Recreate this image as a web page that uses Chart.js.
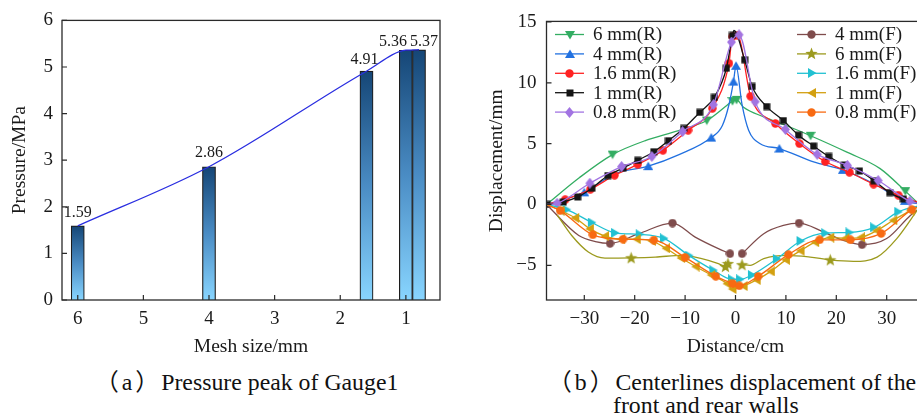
<!DOCTYPE html>
<html><head><meta charset="utf-8">
<script src="https://cdn.jsdelivr.net/npm/chart.js@4.4.1/dist/chart.umd.min.js"></script>
<style>
html,body{margin:0;padding:0;background:#fff;}
body{width:917px;height:419px;overflow:hidden;position:relative;}
.box{position:absolute;top:0;}
.cap{position:absolute;font-family:"Liberation Serif","Noto Sans CJK SC",serif;font-size:23.8px;color:#111;white-space:nowrap;line-height:24px;}
.cap .l{margin-left:3px;margin-right:3px;}
.cap .r{margin-right:2px;}
</style></head>
<body>
<div class="box" style="left:0;width:460px;height:360px"><canvas id="c1" width="460" height="360"></canvas></div>
<div class="box" style="left:480px;width:460px;height:360px"><canvas id="c2" width="460" height="360"></canvas></div>
<div class="cap" style="left:95px;top:370px">（<span class="l">a</span>）<span class="r"></span>Pressure peak of Gauge1</div>
<div class="cap" style="left:548px;top:370px">（<span class="l">b</span>）<span class="r"></span>Centerlines displacement of the</div>
<div class="cap" style="left:613px;top:393px">front and rear walls</div>
<script>
// ---------- data: panel (a) ----------
const meshSizes = [6, 4, 1.6, 1, 0.8];
const peakPressure = [1.59, 2.86, 4.91, 5.36, 5.37];
const meshTicks = [6, 5, 4, 3, 2, 1];
const pressureTicks = [0, 1, 2, 3, 4, 5, 6];

// ---------- data: panel (b) ----------
const distTicks = [-30, -20, -10, 0, 10, 20, 30];
const dispTicks = [-5, 0, 5, 10, 15];
const seriesNames = ['6 mm(R)', '4 mm(R)', '1.6 mm(R)', '1 mm(R)', '0.8 mm(R)',
                     '4 mm(F)', '6 mm(F)', '1.6 mm(F)', '1 mm(F)', '0.8 mm(F)'];
// marked points of each curve
const r6Marks = [[-24.4,4.1],[-5.7,6.9],[-0.6,8.5],[0.2,8.6],[14.9,5.65],[33.7,1.1]];
const r4Marks = [[-30,1.0],[-17.3,3.15],[-4.8,5.5],[-0.4,10.1],[0.1,11.4],[8.7,4.6],[21.3,2.85],[33.6,0.3]];
const r16Marks = [[-33.8,0.4],[-28.8,1.25],[-24,2.4],[-19.4,3.3],[-14.4,4.45],[-9.4,6.1],[-4.6,7.9],[-1.3,11.6],[-0.6,13.8],[0.4,13.9],[3.0,8.9],[7.9,6.66],[12.7,5.0],[17.8,3.53],[22.6,2.65],[27.4,1.67],[32.3,0.77]];
const r1Marks = [[-37.4,0],[-34.2,0.2],[-31.3,0.62],[-28.5,1.34],[-25.3,2.38],[-22.3,3.0],[-19.4,3.63],[-16.2,4.34],[-13.3,5.25],[-10.3,6.25],[-7.1,7.57],[-4.2,8.8],[-1.8,11.2],[-0.6,13.9],[1.8,11.9],[3.3,9.7],[6.2,8.05],[9.5,6.9],[12.5,5.7],[15.5,4.8],[18.5,3.95],[21.6,3.25],[24.6,2.75],[27.5,1.95],[30.6,0.98],[33.3,0.45]];
const r08Marks = [[-35.4,0.1],[-28.9,1.75],[-22.6,3.12],[-16.6,3.95],[-10.5,6.0],[-4.4,8.2],[-0.8,13.35],[0.7,13.95],[3.9,8.45],[9.9,6.17],[16.2,4.12],[22.2,3.22],[28.3,1.97],[34.6,0.27]];
const f4Marks = [[-24.9,-3.2],[-12.5,-1.53],[-1.1,-4.04],[1.3,-4.04],[12.6,-1.53],[25.1,-3.3]];
const f6Marks = [[-20.7,-4.38],[-2.0,-5.1],[-1.5,-4.86],[1.3,-4.95],[18.8,-4.55]];
const f16Marks = [[-33.5,-0.42],[-28.5,-1.48],[-23.9,-2.33],[-19,-2.45],[-14.2,-2.78],[-9.2,-4.2],[-4.4,-5.4],[-0.7,-6.15],[0.9,-6.15],[3.25,-5.8],[8.2,-4.47],[12.9,-3.0],[17.8,-2.35],[22.6,-2.3],[27.5,-1.88],[32.3,-0.6]];
const f1Marks = [[-34.7,-0.5],[-31.8,-1.1],[-28.9,-2.0],[-25.9,-2.6],[-22.7,-2.85],[-19.6,-2.85],[-16.6,-3.0],[-13.8,-3.6],[-10.8,-4.4],[-7.9,-5.1],[-4.8,-5.8],[-1.7,-6.5],[-0.6,-6.95],[1.6,-6.7],[4.2,-6.2],[7.0,-5.5],[10.0,-4.55],[12.9,-3.8],[15.8,-3.1],[18.8,-2.72],[21.8,-2.78],[24.9,-2.7],[28,-2.15],[31.3,-1.3],[34.7,-0.5]];
const f08Marks = [[-34.8,-0.5],[-28.3,-2.49],[-22.3,-2.85],[-16.2,-2.92],[-10,-4.35],[-3.9,-5.9],[-0.55,-6.5],[0.75,-6.68],[4.5,-5.9],[10.5,-4.12],[16.7,-2.9],[22.8,-2.9],[28.9,-2.38],[35,-0.42]];
// unmarked points of each curve (null = break in the line)
const r6Curve = [[-37.5,0],[-31,2.2],[-17.9,5.25],[-11.3,6.07],[-2,8.05],[1.6,8.0],[5.6,7.2],[10.9,6.35],[22.1,4.3],[28.7,2.95],[37.5,-0.4]];
const r4Curve = [[-37.5,0],[-24,2.5],[-11.2,4.1],[-2.6,6.5],[-1.3,8.2],[1.3,8.2],[2.6,6.1],[4.9,5.0],[15.5,3.5],[27.5,1.7],[37.5,0]];
const r16Curve = [[-37.5,0],[37.5,0]];
const r1Curve = [[-0.3,14.3],[37.5,0]];
const r08Curve = [[-37.5,0],[37.5,0]];
const f4Curve = [[-37.5,0],[-31.1,-2.55],[-27.8,-3.05],[-19.2,-2.4],[-8,-2.68],[-3.4,-3.63],[0,null],[5.6,-2.4],[9.5,-1.72],[17.5,-2.27],[21.4,-2.95],[30,-2.8],[34.7,-0.9],[37.5,0]];
const f6Curve = [[-35.4,-0.85],[-32.5,-2.55],[-29.2,-3.9],[-25.9,-4.4],[-15.9,-4.32],[-10.6,-4.18],[-6.7,-4.45],[-3.4,-4.86],[0,null],[2.9,-5.0],[5.6,-4.45],[10.2,-4.18],[14.8,-4.32],[23.4,-4.67],[28.1,-4.32],[32,-2.8],[36,-0.5],[37.5,0.4]];
const f16Curve = [[-37.5,0],[37.5,0]];
const f1Curve = [[-37.5,0],[37.5,0]];
const f08Curve = [[-37.5,0],[37.5,0]];

const allMarks = [r6Marks, r4Marks, r16Marks, r1Marks, r08Marks, f4Marks, f6Marks, f16Marks, f1Marks, f08Marks];
const allCurves = [r6Curve, r4Curve, r16Curve, r1Curve, r08Curve, f4Curve, f6Curve, f16Curve, f1Curve, f08Curve];

// ---------- styles ----------
const seriesColors = ['#33ad62', '#2271e0', '#ff2222', '#151515', '#a274e2',
                      '#7f4c4c', '#9c9a1e', '#22c1d2', '#d3a010', '#f86a12'];
const seriesShapes = ['down', 'up', 'circle', 'square', 'diamond',
                      'circle', 'star', 'right', 'left', 'circle'];
const FONT = '"Liberation Serif", "Times New Roman", serif';
const INK = '#1a1a1a';

function makeMarker(shape, color) {
  const sizes = {circle: 9, square: 8, diamond: 11, up: 10, down: 10, left: 10, right: 10, star: 13};
  const s = sizes[shape];
  const c = document.createElement('canvas'); c.width = s; c.height = s;
  const g = c.getContext('2d'); g.fillStyle = color; const h = s / 2;
  g.beginPath();
  if (shape === 'circle') g.arc(h, h, h - 0.3, 0, Math.PI * 2);
  else if (shape === 'square') g.rect(0.5, 0.5, s - 1, s - 1);
  else if (shape === 'diamond') { g.moveTo(h, 0); g.lineTo(s - 1, h); g.lineTo(h, s); g.lineTo(1, h); }
  else if (shape === 'up') { g.moveTo(h, 0.5); g.lineTo(s, s - 1); g.lineTo(0, s - 1); }
  else if (shape === 'down') { g.moveTo(0, 1); g.lineTo(s, 1); g.lineTo(h, s - 0.5); }
  else if (shape === 'right') { g.moveTo(s - 0.5, h); g.lineTo(1, 0); g.lineTo(1, s); }
  else if (shape === 'left') { g.moveTo(0.5, h); g.lineTo(s - 1, 0); g.lineTo(s - 1, s); }
  else if (shape === 'star') {
    for (let k = 0; k < 10; k++) {
      const r = k % 2 === 0 ? h : h * 0.42;
      const a = -Math.PI / 2 + k * Math.PI / 5;
      const px = h + r * Math.cos(a), py = h + 0.5 + r * Math.sin(a);
      if (k === 0) g.moveTo(px, py); else g.lineTo(px, py);
    }
  }
  g.closePath(); g.fill();
  return c;
}

function minusLabel(v) { return v < 0 ? '\u2212' + Math.abs(v) : String(v); }

// frame + inward tick marks
const framePlugin = {
  id: 'frame',
  afterDatasetsDraw(chart) {
    const {ctx, chartArea: a, scales} = chart;
    ctx.save();
    ctx.strokeStyle = '#2a2a2a'; ctx.lineWidth = 1.3;
    ctx.strokeRect(a.left, a.top, a.right - a.left, a.bottom - a.top);
    ctx.lineWidth = 1.2;
    ctx.beginPath();
    scales.x.ticks.forEach(t => {
      const x = scales.x.getPixelForValue(t.value);
      ctx.moveTo(x, a.bottom); ctx.lineTo(x, a.bottom - 5);
    });
    scales.y.ticks.forEach(t => {
      const y = scales.y.getPixelForValue(t.value);
      ctx.moveTo(a.left, y); ctx.lineTo(a.left + 5, y);
    });
    ctx.stroke();
    ctx.restore();
  }
};

function axisCommon(ticksArr, fmt, pad) {
  return {
    grid: {display: false, drawTicks: false},
    border: {display: false},
    afterBuildTicks: s => { s.ticks = ticksArr.map(v => ({value: v})); },
    ticks: {font: {family: FONT, size: 19}, color: INK, padding: pad, callback: fmt, autoSkip: false, maxRotation: 0}
  };
}

// ---------- panel (a) ----------
const barLabelShift = [[0, -9], [0, -10], [-2, -7], [-13, -4], [5, -4]];
const barLabelPlugin = {
  id: 'barLabels',
  afterDatasetsDraw(chart) {
    const {ctx, scales} = chart;
    ctx.save();
    ctx.font = '16px ' + FONT; ctx.fillStyle = INK; ctx.textAlign = 'center'; ctx.textBaseline = 'alphabetic';
    meshSizes.forEach((m, i) => {
      const x = scales.x.getPixelForValue(m), y = scales.y.getPixelForValue(peakPressure[i]);
      ctx.fillText(peakPressure[i].toFixed(2), x + barLabelShift[i][0], y + barLabelShift[i][1]);
    });
    ctx.restore();
  }
};
const barPoints = meshSizes.map((m, i) => ({x: m, y: peakPressure[i]}));
new Chart(document.getElementById('c1'), {
  type: 'bar',
  data: {datasets: [
    {type: 'line', data: barPoints, borderColor: '#2a2ee0', borderWidth: 1.3, pointRadius: 0,
     cubicInterpolationMode: 'monotone', order: 0},
    {type: 'bar', data: barPoints, order: 1, barPercentage: 1, categoryPercentage: 1,
     borderColor: '#1c1c1c', borderWidth: 1.2,
     backgroundColor: c => {
       const ch = c.chart;
       if (!ch.chartArea || !c.raw) return '#4a8fc6';
       const yT = ch.scales.y.getPixelForValue(c.raw.y), yB = ch.scales.y.getPixelForValue(0);
       const g = ch.ctx.createLinearGradient(0, yT, 0, yB);
       g.addColorStop(0, '#154676'); g.addColorStop(0.5, '#4a8cc4'); g.addColorStop(1, '#88d5ff');
       return g;
     }}
  ]},
  options: {
    responsive: false, animation: false, devicePixelRatio: 1,
    layout: {padding: {top: 20, right: 20, left: 0, bottom: 0}},
    plugins: {legend: {display: false}, tooltip: {enabled: false}},
    scales: {
      x: Object.assign(axisCommon(meshTicks, v => String(v), 8), {
        type: 'linear', reverse: true, min: 0.48, max: 6.24, offset: false,
        title: {display: true, text: 'Mesh size/mm', font: {family: FONT, size: 19.5}, color: INK, padding: {top: 0, bottom: 1}},
        afterFit: s => { s.height = 60; }
      }),
      y: Object.assign(axisCommon(pressureTicks, v => String(v), 9), {
        min: 0, max: 6,
        title: {display: true, text: 'Pressure/MPa', font: {family: FONT, size: 19.5}, color: INK, padding: {top: 8, bottom: 0}},
        afterFit: s => { s.width = 62; }
      })
    }
  },
  plugins: [framePlugin, barLabelPlugin]
});

// ---------- panel (b) ----------
const markerImgs = seriesColors.map((c, i) => makeMarker(seriesShapes[i], c));
const datasets = seriesNames.map((name, i) => {
  const pts = allMarks[i].map(p => ({x: p[0], y: p[1], m: true}))
    .concat(allCurves[i].map(p => ({x: p[0], y: p[1], m: false})))
    .sort((a, b) => a.x - b.x);
  return {
    label: name, data: pts, borderColor: seriesColors[i], backgroundColor: seriesColors[i],
    borderWidth: 1.3, cubicInterpolationMode: 'monotone', spanGaps: false,
    pointStyle: markerImgs[i], pointRadius: c => (c.raw && c.raw.m ? 4 : 0), pointHoverRadius: 0,
    order: -i
  };
});
const legendPlugin = {
  id: 'legendBox',
  afterDraw(chart) {
    const ctx = chart.ctx;
    ctx.save();
    ctx.font = '19px ' + FONT; ctx.fillStyle = INK; ctx.textBaseline = 'middle'; ctx.textAlign = 'left';
    seriesNames.forEach((name, i) => {
      const col = i < 5 ? 0 : 1, row = i % 5;
      const x0 = col === 0 ? 75 : 317, y = 34.5 + row * 19.4;
      ctx.strokeStyle = seriesColors[i]; ctx.lineWidth = 1.3;
      ctx.beginPath(); ctx.moveTo(x0, y); ctx.lineTo(x0 + 29, y); ctx.stroke();
      const img = markerImgs[i];
      ctx.drawImage(img, Math.round(x0 + 14.5 - img.width / 2), Math.round(y - img.height / 2));
      ctx.fillText(name, x0 + 38, y + 1);
    });
    ctx.restore();
  }
};
new Chart(document.getElementById('c2'), {
  type: 'line',
  data: {datasets},
  options: {
    responsive: false, animation: false, devicePixelRatio: 1,
    layout: {padding: {top: 20, right: 15.5, left: 0, bottom: 0}},
    plugins: {legend: {display: false}, tooltip: {enabled: false}},
    scales: {
      x: Object.assign(axisCommon(distTicks, minusLabel, 8), {
        type: 'linear', min: -37.5, max: 37.5,
        title: {display: true, text: 'Distance/cm', font: {family: FONT, size: 19.5}, color: INK, padding: {top: 0, bottom: 1}},
        afterFit: s => { s.height = 60; }
      }),
      y: Object.assign(axisCommon(dispTicks, minusLabel, 10), {
        type: 'linear', min: -7.85, max: 15.05,
        title: {display: true, text: 'Displacement/mm', font: {family: FONT, size: 19.5}, color: INK, padding: {top: 5, bottom: 0}},
        afterFit: s => { s.width = 66.5; }
      })
    }
  },
  plugins: [framePlugin, legendPlugin]
});
</script>
</body></html>
